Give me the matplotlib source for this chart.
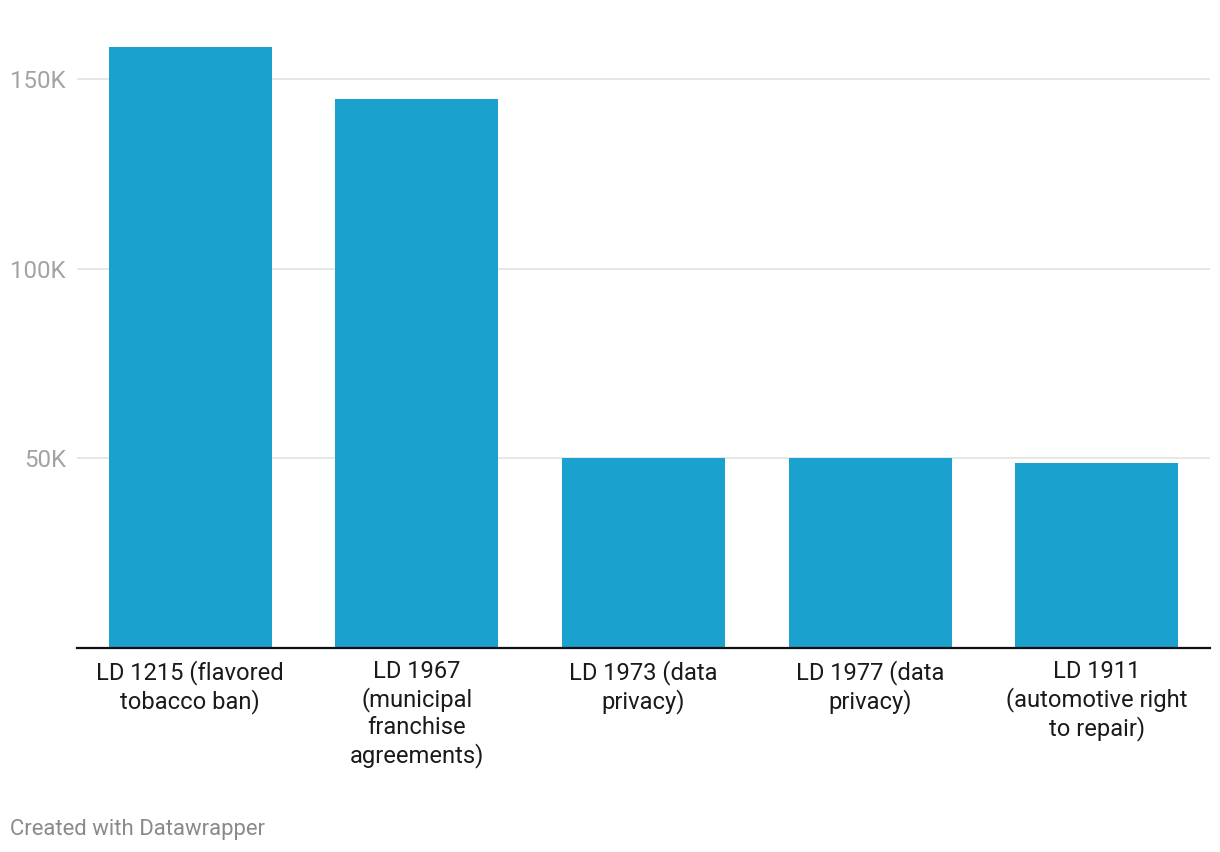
import matplotlib
matplotlib.use("Agg")
import matplotlib.pyplot as plt
from matplotlib.ticker import FuncFormatter

categories = [
    "LD 1215 (flavored\ntobacco ban)",
    "LD 1967\n(municipal\nfranchise\nagreements)",
    "LD 1973 (data\nprivacy)",
    "LD 1977 (data\nprivacy)",
    "LD 1911\n(automotive right\nto repair)",
]
values = [158300, 144700, 50000, 50000, 48850]
yticks = [50000, 100000, 150000]

plt.rcParams['font.family'] = ['Roboto', 'DejaVu Sans']

W, H = 1220, 852
fig = plt.figure(figsize=(W / 100, H / 100), dpi=100)
ax = fig.add_axes([77 / W, (H - 648) / H, 1133 / W, (648 - 41) / H])

x = list(range(len(categories)))
ax.bar(x, values, width=0.72, color="#1aa1cd", zorder=2)

ax.set_xlim(-0.5, len(categories) - 0.5)
ax.set_ylim(0, 160000)
ax.set_yticks(yticks)
ax.yaxis.set_major_formatter(FuncFormatter(lambda v, p: f"{int(v/1000)}K"))
ax.yaxis.grid(True, color="#e3e3e3", linewidth=1.2, zorder=0)
ax.tick_params(axis="y", length=0, pad=8, labelsize=17.3, labelcolor="#a3a3a3")

ax.set_xticks(x)
ax.set_xticklabels(categories, fontsize=17.1, color="#1a1a1a", linespacing=1.2, va="top")
ax.tick_params(axis="x", length=0, pad=9)

for s in ["top", "right", "left"]:
    ax.spines[s].set_visible(False)
ax.spines["bottom"].set_color("#111111")
ax.spines["bottom"].set_linewidth(1.6)
ax.spines["bottom"].set_zorder(3)

fig.text(10 / W, (H - 829) / H, "Created with Datawrapper", fontsize=15.9,
         color="#8a8a8a", ha="left", va="center")

fig.savefig("out.png", dpi=100)
